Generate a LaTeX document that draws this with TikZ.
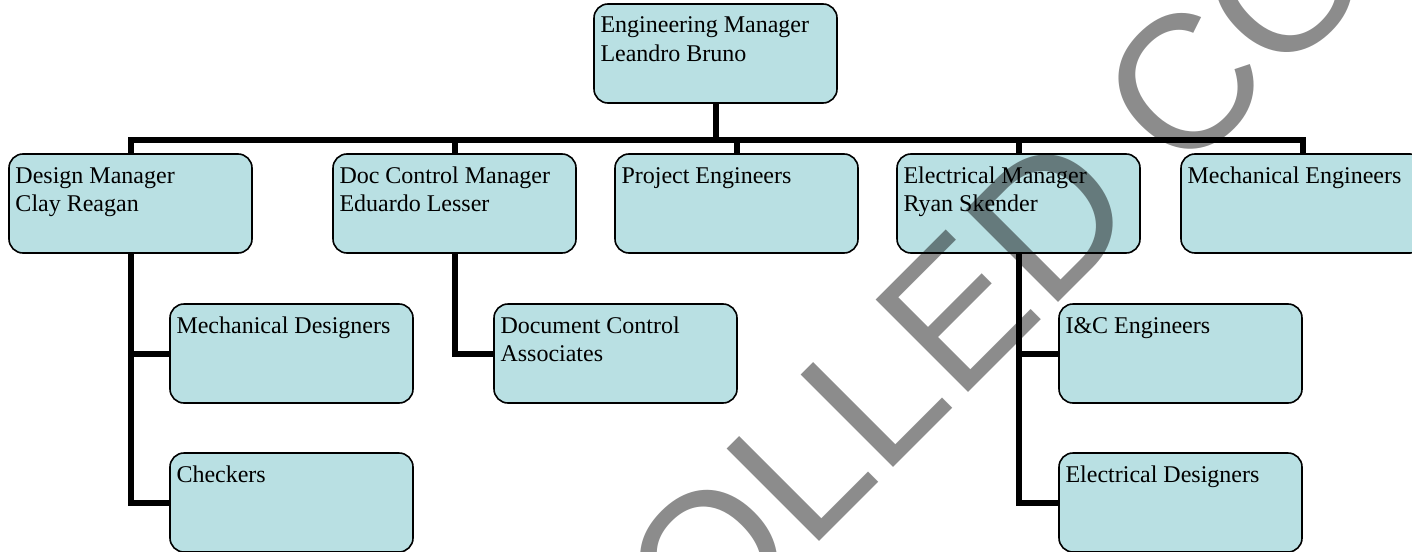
\documentclass[tikz,border=0pt]{standalone}
\usepackage{fontspec}
\setmainfont{Liberation Serif}
\newfontfamily\wmfont{Liberation Sans}
\usetikzlibrary{calc}
\definecolor{boxfill}{RGB}{185,224,227}
\pgfdeclarelayer{background}
\pgfsetlayers{background,main}
\newcommand\boxtxt[1]{\begin{minipage}[t][99pt][t]{243pt}\raggedright\leftskip=6.5pt\relax\rule{0pt}{29pt}#1\end{minipage}}
\begin{document}
\begin{tikzpicture}[x=1pt,y=-1pt,
  box/.style={draw=black, line width=1.6pt, fill=boxfill, rounded corners=14pt,
    anchor=north west, inner sep=0pt, outer sep=0pt, font=\fontsize{24}{28.8}\selectfont},
  conn/.style={line width=6pt, line join=miter, line cap=butt},
  wm/.style={font=\wmfont\fontsize{190}{190}\selectfont, text=black, text opacity=0.45,
    inner sep=0pt, anchor=base west, rotate=45}]
\useasboundingbox (0,0) rectangle (1412,551);
\begin{scope}
\clip (0,0) rectangle (1412,551);
\node[box] (em) at (594,4)   {\boxtxt{Engineering Manager\\Leandro Bruno}};
\node[box] (dm) at (9,154)   {\boxtxt{Design Manager\\Clay Reagan}};
\node[box] (dc) at (333,154) {\boxtxt{Doc Control Manager\\Eduardo Lesser}};
\node[box] (pe) at (615,154) {\boxtxt{Project Engineers}};
\node[box] (el) at (897,154) {\boxtxt{Electrical Manager\\Ryan Skender}};
\node[box] (me) at (1181,154) {\boxtxt{Mechanical Engineers}};
\node[box] (md) at (170,304) {\boxtxt{Mechanical Designers}};
\node[box] (ck) at (170,453) {\boxtxt{Checkers}};
\node[box] (da) at (494,304) {\boxtxt{Document Control\\Associates}};
\node[box] (ic) at (1059,304) {\boxtxt{I\&C Engineers}};
\node[box] (ed) at (1059,453) {\boxtxt{Electrical Designers}};
\coordinate (bus) at (0,140);
\begin{pgfonlayer}{background}
\draw[conn] (em.south) -- (em.south |- bus);
\draw[conn] (dm.north) -- (dm.north |- bus) -| (me.north);
\draw[conn] (dc.north) -- (dc.north |- bus);
\draw[conn] (pe.north) -- (pe.north |- bus);
\draw[conn] (el.north) -- (el.north |- bus);
\draw[conn] (dm.south) |- (ck.west);
\draw[conn] (dm.south |- md.west) -- (md.west);
\draw[conn] (dc.south) |- (da.west);
\draw[conn] (el.south) |- (ed.west);
\draw[conn] (el.south |- ic.west) -- (ic.west);
\end{pgfonlayer}
\node[wm] (wmark) at (32,1329) {UNCONTROLLED COPY};
\end{scope}
\end{tikzpicture}
\end{document}
